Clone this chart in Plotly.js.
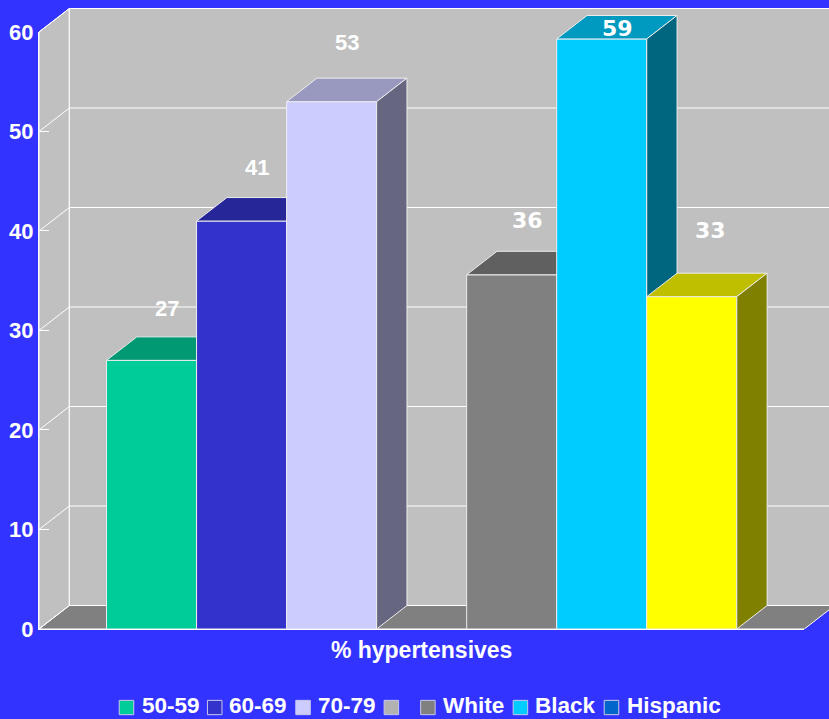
<!DOCTYPE html>
<html><head><meta charset="utf-8">
<script src="https://cdn.plot.ly/plotly-3.0.1.min.js"></script>
<style>html,body{margin:0;padding:0;background:#3333FF;overflow:hidden}</style>
</head><body><div id="chart" style="width:829px;height:719px"></div>
<script>
const seriesNames = ['50-59','60-69','70-79',' ','White','Black','Hispanic'];
const barGroups = ['50-59','60-69','70-79','White','Black','Hispanic'];
const barValues = [27, 41, 53, 35.6, 59.3, 33.4];
const barLabels = ['27','41','53','36','59','33'];
const yTicks = [0,10,20,30,40,50,60];
const xTitle = '% hypertensives';

// styling
const barSlots = [1.25,2.25,3.25,5.25,6.25,7.25];
const frontColors = ['#00CC99','#3333CC','#CCCCFF','#808080','#00CCFF','#FFFF00'];
const topColors   = ['#009973','#262699','#9999BF','#606060','#0099BF','#BFBF00'];
const sideColors  = ['#00664D','#1A1A66','#666680','#404040','#006680','#808000'];
const legendColors = ['#00CC99','#3333CC','#CCCCFF','#B2B2B2','#808080','#00CCFF','#0066CC'];
const legendSwatchX = [119.5,207.7,296,384.3,420.8,513.3,604.3];
const legendTextX = [141,228.7,316.7,null,441.7,534.3,626];
const labelShift = [[15,52],[15,54],[15,59],[15.5,54],[15.5,10],[19,66]];
const labelFonts = ['Liberation Sans','Liberation Sans','Liberation Sans','DejaVu Sans','DejaVu Sans','DejaVu Sans'];
const labelSizes = [22,22,22,22,22,22];

const L=39.3, AXR=804.3, W=829, H=719, B=629.3;
const xUnit=90, yUnit=9.955;
const xMax=8.5, yMax=60, dx=0.337, dy=2.36;
const fullX=(W-L)/xUnit, fullY=B/yUnit;
const axDomX=[0,(AXR-L)/(W-L)], axDomY=[0,yMax/fullY];
const px=x=>(x-L)/(W-L), py=y=>(B-y)/B;
const bold={family:'Liberation Sans',color:'#FFFFFF',weight:700};
const edge='#EDEDED';

function poly(xs,ys,fill,axis,line){
  return {type:'scatter',mode:'lines',x:xs,y:ys,fill:'toself',fillcolor:fill,
    line:{color:line||edge,width:1},hoverinfo:'skip',showlegend:false,
    xaxis:'x'+axis,yaxis:'y'+axis};
}
const traces=[];
// walls and floor
traces.push(poly([0,0,dx,dx,0],[0,yMax,yMax+dy,dy,0],'#C0C0C0','', '#FFFFFF'));
traces.push(poly([dx,dx,xMax+dx,xMax+dx,dx],[dy,yMax+dy,yMax+dy,dy,dy],'#C0C0C0','', '#FFFFFF'));
traces.push(poly([0,xMax,xMax+dx,dx,0],[0,0,dy,dy,0],'#808080','', '#FFFFFF'));
// gridlines wrapping the walls
yTicks.forEach(t=>{
  traces.push({type:'scatter',mode:'lines',x:[0,dx,xMax+dx],y:[t,t+dy,t+dy],
    line:{color:'#FFFFFF',width:1},hoverinfo:'skip',showlegend:false});
});
const layout={
  width:W,height:H,paper_bgcolor:'#3333FF',plot_bgcolor:'rgba(0,0,0,0)',
  margin:{l:L,r:0,t:0,b:H-B,pad:0},showlegend:false,barmode:'overlay',
  xaxis:{domain:[0,1],range:[0,fullX],visible:false,fixedrange:true},
  yaxis:{domain:[0,1],range:[0,fullY],visible:false,fixedrange:true},
  // the visible axes stop at the chart's own extent
  xaxis9:{domain:axDomX,range:[0,xMax],anchor:'y9',showgrid:false,zeroline:false,showline:true,linecolor:'#FFFFFF',linewidth:1,
    tickmode:'array',tickvals:[xMax],ticktext:[''],ticks:'inside',ticklen:9,tickcolor:'#FFFFFF',tickwidth:1,
    showticklabels:false,fixedrange:true,
    title:{text:xTitle,standoff:12,font:{...bold,size:23}}},
  yaxis9:{domain:axDomY,range:[0,yMax],anchor:'x9',showgrid:false,zeroline:false,showline:true,linecolor:'#FFFFFF',linewidth:1,
    tickmode:'array',tickvals:yTicks,ticks:'inside',ticklen:10,tickcolor:'#FFFFFF',tickwidth:1,
    tickfont:{...bold,size:22},fixedrange:true},
  shapes:[],annotations:[]
};
// bars, each in its own overlaid subplot so nearer bars cover farther ones
barGroups.forEach((g,i)=>{
  const n=i+2, v=barValues[i], c=barSlots[i], x0=c-.5, x1=c+.5;
  layout['xaxis'+n]={range:[0,fullX],overlaying:'x',anchor:'y'+n,visible:false,fixedrange:true};
  layout['yaxis'+n]={range:[0,fullY],overlaying:'y',anchor:'x'+n,visible:false,fixedrange:true};
  traces.push({type:'bar',x:[c],y:[v],width:[1],name:g,marker:{color:frontColors[i],line:{color:edge,width:1}},
    hoverinfo:'skip',showlegend:false,xaxis:'x'+n,yaxis:'y'+n});
  traces.push(poly([x0,x1,x1+dx,x0+dx,x0],[v,v,v+dy,v+dy,v],topColors[i],n));
  traces.push(poly([x1,x1+dx,x1+dx,x1,x1],[0,dy,v+dy,v,0],sideColors[i],n));
  layout.annotations.push({xref:'x',yref:'y',x:c,y:v,text:barLabels[i],showarrow:false,
    xanchor:'center',yanchor:'middle',xshift:labelShift[i][0],yshift:labelShift[i][1],
    font:{family:labelFonts[i],size:labelSizes[i],color:'#FFFFFF',weight:700}});
});
traces.push({type:'scatter',mode:'lines',x:[null],y:[null],xaxis:'x9',yaxis:'y9',hoverinfo:'skip',showlegend:false});
// legend row
seriesNames.forEach((s,i)=>{
  const x=legendSwatchX[i];
  layout.shapes.push({type:'rect',xref:'paper',yref:'paper',x0:px(x),x1:px(x+14.5),y0:py(700.7),y1:py(715),
    fillcolor:legendColors[i],line:{color:'#C8C8E8',width:1}});
  if(legendTextX[i]!==null) layout.annotations.push({xref:'paper',yref:'paper',x:px(legendTextX[i]),y:py(706),
    text:s,showarrow:false,xanchor:'left',yanchor:'middle',borderpad:0,font:{...bold,size:22.5}});
});
Plotly.newPlot('chart',traces,layout,{displayModeBar:false,staticPlot:true});
</script></body></html>
